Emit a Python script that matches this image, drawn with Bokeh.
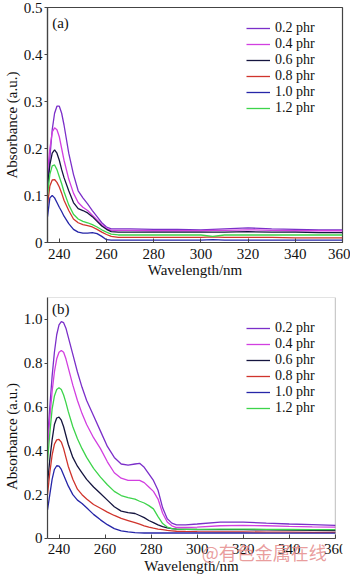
from bokeh.plotting import figure
from bokeh.layouts import column
from bokeh.models import Legend, LegendItem, Label, FixedTicker, Range1d, BoxAnnotation
from bokeh.embed import file_html
from bokeh.resources import INLINE

# ---------------- data ----------------
series_labels = ["0.2 phr", "0.4 phr", "0.6 phr", "0.8 phr", "1.0 phr", "1.2 phr"]
series_colors = ["#7B2FC9", "#D23FE0", "#15153F", "#D0342C", "#2626A8", "#3DD44B"]

# panel (a)
wl_a = [235, 236, 237, 238, 239, 240, 241, 242, 244, 246, 248, 250, 252, 254, 256,
        258, 260, 262, 265, 270, 280, 290, 300, 305, 310, 320, 330, 340, 350, 360]
a_02 = [0.12, 0.18, 0.24, 0.275, 0.29, 0.29, 0.275, 0.25, 0.19, 0.145, 0.11, 0.095, 0.082, 0.068, 0.055,
        0.042, 0.033, 0.029, 0.029, 0.029, 0.028, 0.028, 0.027, 0.028, 0.029, 0.031, 0.029, 0.028, 0.027, 0.027]
a_04 = [0.15, 0.20, 0.235, 0.244, 0.24, 0.225, 0.20, 0.175, 0.135, 0.105, 0.085, 0.075, 0.068, 0.058, 0.048,
        0.038, 0.030, 0.026, 0.026, 0.026, 0.025, 0.025, 0.025, 0.026, 0.026, 0.027, 0.026, 0.025, 0.025, 0.025]
a_06 = [0.12, 0.165, 0.19, 0.197, 0.19, 0.175, 0.155, 0.138, 0.11, 0.085, 0.072, 0.068, 0.063, 0.055, 0.045,
        0.035, 0.028, 0.023, 0.022, 0.022, 0.022, 0.022, 0.022, 0.022, 0.022, 0.023, 0.022, 0.022, 0.021, 0.021]
a_08 = [0.08, 0.12, 0.133, 0.134, 0.128, 0.118, 0.105, 0.09, 0.068, 0.05, 0.042, 0.038, 0.036, 0.033, 0.028,
        0.022, 0.017, 0.013, 0.011, 0.011, 0.011, 0.011, 0.011, 0.012, 0.011, 0.011, 0.011, 0.010, 0.010, 0.010]
a_10 = [0.055, 0.095, 0.10, 0.095, 0.085, 0.075, 0.066, 0.056, 0.04, 0.028, 0.022, 0.02, 0.02, 0.021, 0.019,
        0.013, 0.006, 0.005, 0.005, 0.005, 0.005, 0.005, 0.005, 0.006, 0.005, 0.005, 0.005, 0.005, 0.005, 0.005]
a_12 = [0.10, 0.145, 0.163, 0.165, 0.155, 0.14, 0.125, 0.108, 0.08, 0.06, 0.05, 0.045, 0.042, 0.038, 0.033,
        0.027, 0.022, 0.018, 0.016, 0.016, 0.016, 0.016, 0.016, 0.013, 0.016, 0.016, 0.016, 0.016, 0.016, 0.016]

# panel (b)
wl_b = [235, 236, 237, 238, 239, 240, 241, 242, 243, 244, 246, 248, 250, 252, 255, 258, 261, 264, 267,
        270, 273, 275, 277, 279, 281, 283, 285, 287, 289, 291, 295, 300, 310, 320, 330, 340, 350, 360]
b_02 = [0.45, 0.60, 0.74, 0.85, 0.93, 0.975, 0.99, 0.985, 0.96, 0.92, 0.84, 0.76, 0.69, 0.63, 0.56, 0.49, 0.42, 0.37, 0.34,
        0.335, 0.34, 0.343, 0.325, 0.295, 0.265, 0.22, 0.14, 0.09, 0.07, 0.062, 0.062, 0.066, 0.075, 0.075, 0.07, 0.066, 0.063, 0.06]
b_04 = [0.40, 0.55, 0.67, 0.76, 0.82, 0.85, 0.858, 0.85, 0.82, 0.78, 0.70, 0.63, 0.57, 0.52, 0.46, 0.41, 0.35, 0.30, 0.275,
        0.265, 0.265, 0.265, 0.255, 0.235, 0.215, 0.18, 0.115, 0.075, 0.058, 0.05, 0.05, 0.052, 0.058, 0.06, 0.058, 0.055, 0.053, 0.052]
b_06 = [0.25, 0.36, 0.45, 0.52, 0.55, 0.554, 0.54, 0.51, 0.47, 0.43, 0.37, 0.33, 0.30, 0.27, 0.235, 0.205, 0.175, 0.145, 0.125,
        0.118, 0.114, 0.105, 0.095, 0.082, 0.072, 0.062, 0.054, 0.048, 0.045, 0.043, 0.042, 0.041, 0.040, 0.040, 0.039, 0.038, 0.037, 0.036]
b_08 = [0.20, 0.30, 0.38, 0.43, 0.45, 0.452, 0.44, 0.41, 0.37, 0.33, 0.27, 0.225, 0.20, 0.18, 0.155, 0.138, 0.12, 0.105, 0.092,
        0.082, 0.072, 0.065, 0.058, 0.052, 0.047, 0.043, 0.04, 0.037, 0.035, 0.033, 0.032, 0.031, 0.030, 0.030, 0.029, 0.029, 0.028, 0.028]
b_10 = [0.13, 0.20, 0.27, 0.315, 0.332, 0.33, 0.315, 0.29, 0.265, 0.24, 0.20, 0.175, 0.16, 0.14, 0.11, 0.085, 0.063, 0.045, 0.035,
        0.03, 0.027, 0.026, 0.025, 0.025, 0.025, 0.025, 0.025, 0.025, 0.025, 0.025, 0.025, 0.025, 0.025, 0.025, 0.024, 0.024, 0.024, 0.024]
b_12 = [0.35, 0.48, 0.59, 0.65, 0.68, 0.688, 0.68, 0.655, 0.62, 0.58, 0.51, 0.455, 0.41, 0.37, 0.32, 0.28, 0.245, 0.215, 0.196,
        0.187, 0.18, 0.17, 0.162, 0.15, 0.135, 0.10, 0.068, 0.052, 0.045, 0.043, 0.042, 0.042, 0.043, 0.043, 0.042, 0.041, 0.040, 0.040]

x_ticks = [240, 260, 280, 300, 320, 340, 360]
y_ticks_a = [0, 0.1, 0.2, 0.3, 0.4, 0.5]
y_ticks_b = [0, 0.2, 0.4, 0.6, 0.8, 1.0]
y_overrides = {0: "0", 1: "1.0"}
x_lo, x_hi = 235, 360
watermark = "@有色金属在线"

FONT = "Liberation Serif"
AX = "#444444"
TXT = "#111111"


def style_axis(ax):
    ax.axis_line_color = AX
    ax.axis_line_width = 1.2
    ax.major_tick_line_color = AX
    ax.minor_tick_line_color = None
    ax.major_label_text_font = FONT
    ax.major_label_text_font_size = "15px"
    ax.major_label_text_color = TXT
    ax.axis_label_text_font = FONT
    ax.axis_label_text_font_size = "15px"
    ax.axis_label_text_font_style = "normal"
    ax.axis_label_text_color = TXT


def make_panel(wl, ys, yticks, ymin, ymax, height, top, bottom, tag, tag_y, legend_bottom, open_box):
    # open_box: the frame runs to the canvas edge (bottom/right) so the watermark and the
    # last tick label can be drawn there; a box annotation closes the plot area instead
    x_range = Range1d(x_lo, 363.1) if open_box else Range1d(x_lo, x_hi)
    p = figure(width=350, height=height, output_backend="svg", toolbar_location=None,
               x_range=x_range, y_range=Range1d(ymin, ymax),
               min_border_left=43, min_border_right=0 if open_box else 8,
               min_border_top=top, min_border_bottom=bottom)
    p.grid.visible = False
    p.background_fill_color = "white"
    p.border_fill_color = "white"

    items = []
    for y, c, lab in zip(ys, series_colors, series_labels):
        r = p.line(wl, y, line_color=c, line_width=1.3)
        items.append(LegendItem(label=lab, renderers=[r]))

    leg = Legend(items=items, location=(199, legend_bottom), padding=0, margin=0,
                 spacing=0, glyph_width=24, glyph_height=14, label_height=14, label_standoff=5,
                 label_text_font=FONT, label_text_font_size="14px", label_text_color=TXT,
                 border_line_alpha=0, background_fill_alpha=0)
    p.add_layout(leg)

    style_axis(p.xaxis[0])
    style_axis(p.yaxis[0])

    p.xaxis.ticker = FixedTicker(ticks=x_ticks)
    p.xaxis.major_tick_in = 4
    p.xaxis.major_tick_out = 0
    p.xaxis.major_label_standoff = 6
    p.xaxis.axis_label = "Wavelength/nm"
    p.xaxis.axis_label_standoff = 0

    p.yaxis.ticker = FixedTicker(ticks=yticks)
    p.yaxis.major_tick_in = 0
    p.yaxis.major_tick_out = 3
    p.yaxis.major_label_standoff = 2
    p.yaxis.major_label_overrides = y_overrides
    p.yaxis.axis_label = "Absorbance (a.u.)"
    p.yaxis.axis_label_standoff = 1

    if open_box:
        p.outline_line_color = None
        p.xaxis.fixed_location = 0
        p.xaxis.bounds = (x_lo, x_hi)
        p.yaxis.bounds = (0, ymax)
        p.add_layout(BoxAnnotation(left=x_lo, right=x_hi, bottom=0, top=ymax,
                                   fill_alpha=0, line_color=AX, line_width=1.2, level="overlay"))
    else:
        p.outline_line_color = AX
        p.outline_line_width = 1.2

    p.add_layout(Label(x=237, y=tag_y, text=tag, text_font=FONT, text_font_size="15px",
                       text_color=TXT, text_baseline="middle", text_align="left"))
    return p


p1 = make_panel(wl_a, [a_02, a_04, a_06, a_08, a_10, a_12], y_ticks_a, 0, 0.5, 280, 7, 34,
                "(a)", 0.468, 126, False)
p2 = make_panel(wl_b, [b_02, b_04, b_06, b_08, b_10, b_12], y_ticks_b, -0.169, 1.1, 295, 17, 0,
                "(b)", 1.046, 159, True)

p2.add_layout(Label(x=302, y=-0.06, level="overlay",
                    text=watermark, text_font="Noto Sans CJK SC",
                    text_font_size="18px", text_color="#E58C8C", text_alpha=0.85,
                    text_baseline="middle", text_align="left"))

layout = column(p1, p2, spacing=0)
open("out.html", "w").write(file_html(layout, INLINE))
